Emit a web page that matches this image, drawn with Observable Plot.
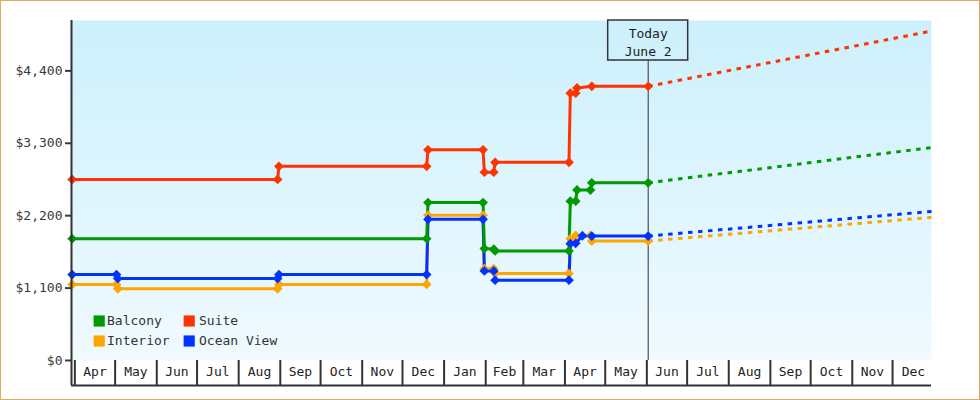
<!DOCTYPE html>
<html>
<head>
<meta charset="utf-8">
<script src="https://cdn.jsdelivr.net/npm/d3@7"></script>
<script src="https://cdn.jsdelivr.net/npm/@observablehq/plot@0.6"></script>
<style>
html, body { margin: 0; padding: 0; background: #fff; }
#chart svg { display: block; outline: 1px solid #e8a860; outline-offset: -1px; }
</style>
</head>
<body>
<div id="chart"></div>
<script>
// ---- categories & colours ----
const series = ["Balcony", "Suite", "Interior", "Ocean View"];
const seriesColors = ["#009900", "#ff3300", "#ffa500", "#0033ff"];

// ---- observed prices (solid, with markers) ----
const interiorDates  = ["2022-03-30","2022-05-02","2022-05-03","2022-08-30","2022-08-31","2022-12-19","2022-12-20","2023-01-30","2023-01-31","2023-02-07","2023-02-08","2023-04-04","2023-04-05","2023-04-09","2023-04-20","2023-04-21","2023-06-02"];
const interiorPrices = [1155, 1155, 1090, 1090, 1155, 1155, 2205, 2205, 1395, 1395, 1320, 1320, 1850, 1900, 1900, 1815, 1815];

const oceanDates  = ["2022-03-30","2022-05-02","2022-05-03","2022-08-30","2022-08-31","2022-12-19","2022-12-20","2023-01-30","2023-01-31","2023-02-07","2023-02-08","2023-04-04","2023-04-05","2023-04-09","2023-04-14","2023-04-21","2023-06-02"];
const oceanPrices = [1305, 1305, 1245, 1245, 1305, 1305, 2145, 2145, 1360, 1360, 1220, 1220, 1775, 1780, 1895, 1890, 1890];

const balconyDates  = ["2022-03-30","2022-12-19","2022-12-20","2023-01-30","2023-01-31","2023-02-07","2023-02-08","2023-04-04","2023-04-05","2023-04-09","2023-04-10","2023-04-20","2023-04-21","2023-06-02"];
const balconyPrices = [1850, 1850, 2400, 2400, 1700, 1690, 1665, 1665, 2420, 2420, 2590, 2590, 2700, 2700];

const suiteDates  = ["2022-03-30","2022-08-30","2022-08-31","2022-12-19","2022-12-20","2023-01-30","2023-01-31","2023-02-07","2023-02-08","2023-04-04","2023-04-05","2023-04-09","2023-04-10","2023-04-21","2023-06-02"];
const suitePrices = [2750, 2750, 2950, 2950, 3200, 3200, 2860, 2860, 3010, 3010, 4060, 4060, 4140, 4165, 4165];

// ---- projected prices (dashed) ----
const projectionDates   = ["2023-06-02", "2023-12-30"];
const interiorProjection = [1815, 2175];
const oceanProjection    = [1890, 2265];
const balconyProjection  = [2700, 3235];
const suiteProjection    = [4165, 5005];

// ---- today marker ----
const todayDate  = "2023-06-02";
const todayLabel = "Today\nJune 2";

// ---- axes ----
const monthStarts = ["2022-04-01","2022-05-01","2022-06-01","2022-07-01","2022-08-01","2022-09-01","2022-10-01","2022-11-01","2022-12-01","2023-01-01","2023-02-01","2023-03-01","2023-04-01","2023-05-01","2023-06-01","2023-07-01","2023-08-01","2023-09-01","2023-10-01","2023-11-01","2023-12-01"];
const yTicks = [0, 1100, 2200, 3300, 4400];
const xDomain = ["2022-03-29T12:00:00Z", "2023-12-30T00:00:00Z"];
const yDomain = [0, 5165];

// ---- build tables ----
const rows = (name, dates, prices) => dates.map((d, i) => ({series: name, date: new Date(d), price: prices[i]}));
const solid = [
  ...rows("Interior", interiorDates, interiorPrices),
  ...rows("Ocean View", oceanDates, oceanPrices),
  ...rows("Balcony", balconyDates, balconyPrices),
  ...rows("Suite", suiteDates, suitePrices)
];
const projected = [
  ...rows("Interior", projectionDates, interiorProjection),
  ...rows("Ocean View", projectionDates, oceanProjection),
  ...rows("Balcony", projectionDates, balconyProjection),
  ...rows("Suite", projectionDates, suiteProjection)
];
const monthStartDates = monthStarts.map(d => new Date(d));
const monthMids = monthStartDates.map(d => new Date((+d + +d3.utcMonth.offset(d, 1)) / 2));
const today = new Date(todayDate);
const font = "DejaVu Sans Mono";

const legendMarks = series.map((name, i) => {
  const col = i % 2, row = Math.floor(i / 2);
  return [
    Plot.dot([name], {frameAnchor: "bottom-left", dx: 27.7 + col * 90, dy: -39.5 + row * 20, symbol: "square", r: 6.3, fill: d => d}),
    Plot.text([name], {frameAnchor: "bottom-left", lineAnchor: "middle", dx: 35.5 + col * 92, dy: -39.5 + row * 20, text: d => d, textAnchor: "start", fontSize: 13, fill: "#333"})
  ];
});

const chart = Plot.plot({
  width: 980,
  height: 400,
  marginLeft: 71,
  marginRight: 49,
  marginTop: 20,
  marginBottom: 40,
  style: {fontFamily: font, fontSize: "13px", color: "#3a3a3a", background: "white"},
  x: {type: "utc", domain: xDomain.map(d => new Date(d))},
  y: {domain: yDomain},
  color: {domain: series, range: seriesColors},
  marks: [
    Plot.frame({fill: "url(#plotBg)", stroke: "none"}),
    // y axis
    Plot.axisY(yTicks, {label: null, tickSize: 6, tickPadding: 3, tickFormat: d => "$" + d3.format(",")(d), fontSize: 13, strokeWidth: 2}),
    // month dividers and labels
    Plot.tickX(monthStartDates, {insetTop: 340, insetBottom: -25, stroke: "#333", strokeWidth: 2}),
    Plot.axisX(monthMids, {label: null, tickSize: 0, tickPadding: 6, tickFormat: d3.utcFormat("%b"), fontSize: 13, fill: "#222"}),
    Plot.ruleY([0], {dy: 25, stroke: "#333", strokeWidth: 2}),
    // today marker
    Plot.ruleX([today], {insetTop: 40, stroke: "#333", strokeWidth: 1}),
    Plot.rect([today], {x1: d => d, x2: d => d, insetLeft: -40, insetRight: -40, insetBottom: 300, fill: "none", stroke: "#333", strokeWidth: 1.5}),
    Plot.text([today], {x: d => d, frameAnchor: "top", lineAnchor: "middle", dy: 21, text: () => todayLabel, lineHeight: 1.36, fontSize: 13, fill: "#222"}),
    // projections
    Plot.line(projected, {x: "date", y: "price", z: "series", stroke: "series", strokeWidth: 3, strokeDasharray: "4.5,5.5", strokeLinecap: "butt"}),
    // observed prices
    Plot.line(solid, {x: "date", y: "price", z: "series", stroke: "series", strokeWidth: 3, strokeLinejoin: "miter", strokeLinecap: "butt"}),
    Plot.dot(solid, {x: "date", y: "price", fill: "series", stroke: "none", symbol: "diamond2", r: 4.4}),
    // y axis line
    Plot.ruleX([new Date(xDomain[0])], {insetBottom: -25, stroke: "#333", strokeWidth: 2}),
    ...legendMarks.flat()
  ]
});

// gradient background for the plot frame
const svgSel = d3.select(chart);
const grad = svgSel.insert("defs", ":first-child")
  .append("linearGradient").attr("id", "plotBg")
  .attr("x1", 0).attr("y1", 0).attr("x2", 0).attr("y2", 1);
grad.append("stop").attr("offset", 0).attr("stop-color", "#ccf0fc");
grad.append("stop").attr("offset", 1).attr("stop-color", "#f0faff");

document.getElementById("chart").append(chart);
</script>
</body>
</html>
